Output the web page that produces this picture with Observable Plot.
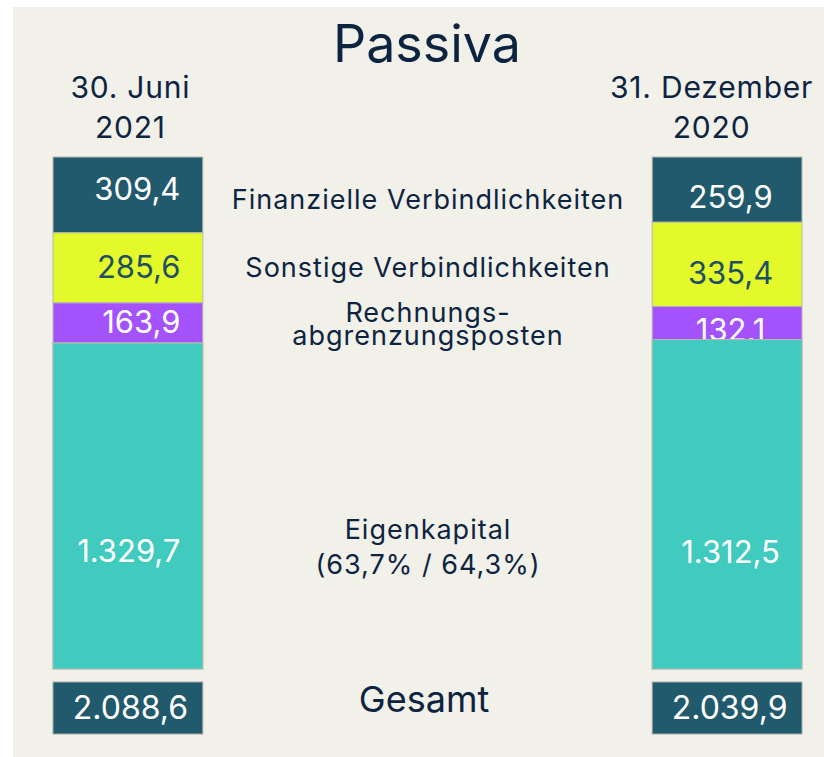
<!DOCTYPE html>
<html>
<head>
<meta charset="utf-8">
<script src="https://cdn.jsdelivr.net/npm/d3@7"></script>
<script src="https://cdn.jsdelivr.net/npm/@observablehq/plot@0.6"></script>
<style>
  html, body { margin: 0; padding: 0; background: #ffffff; }
  #panel { position: absolute; left: 13px; top: 7px; width: 811px; height: 750px; background: #f1f0e9; }
  #title { position: absolute; left: 264px; width: 300px; top: 11px; text-align: center;
           font-family: Inter, sans-serif; font-size: 52px; line-height: 52px; color: #0d2441; }
  #main { position: absolute; left: 0; top: 63px; }
  #totals { position: absolute; left: 0; top: 669px; }
  svg { overflow: visible; }
</style>
</head>
<body>
<div id="panel">
  <div id="title">Passiva</div>
  <div id="main"></div>
  <div id="totals"></div>
</div>
<script>
// ---- data ----
const dates = ["30. Juni\n2021", "31. Dezember\n2020"];
const categories = ["Finanzielle Verbindlichkeiten", "Sonstige Verbindlichkeiten", "Rechnungsabgrenzungsposten", "Eigenkapital"];
const categoryLabels = ["Finanzielle Verbindlichkeiten", "Sonstige Verbindlichkeiten", "Rechnungs-\nabgrenzungsposten", "Eigenkapital\n(63,7% / 64,3%)"];
const values2021 = [309.4, 285.6, 163.9, 1329.7];
const values2020 = [259.9, 335.4, 132.1, 1312.5];
const totals = [2088.6, 2039.9];
const totalLabel = "Gesamt";
const colors = ["#215a6c", "#e4f929", "#a452fc", "#41cbbf"];

const navy = "#0d2441";
const MID = " ";
const de = d3.formatLocale({decimal: ",", thousands: ".", grouping: [3], currency: ["", "€"]});
const fmt = de.format(",.1f");

const series = [values2021, values2020];
const rows = dates.flatMap((date, i) => categories.map((cat, j) => ({
  date, cat, value: series[i][j], label: categoryLabels[j]
})));
const rows2021 = rows.filter(d => d.date === dates[0]);
const totalRows = dates.map((date, i) => ({date, total: totals[i]}));

const xScale = {type: "band", domain: [dates[0], MID, dates[1]], paddingInner: 0.5, paddingOuter: 0, round: false};
const stackOpts = {x: "date", y: "value", offset: "normalize", reverse: true};

function valueText(dateIdx, pred, extra) {
  return Plot.text(rows, Plot.stackY({
    ...stackOpts,
    text: d => (d.date === dates[dateIdx] && pred(d)) ? fmt(d.value) : null,
    fontFamily: "Inter, sans-serif",
    fontSize: 31,
    ...extra
  }));
}
const isCat = k => d => d.cat === categories[k];
const leftPos = {textAnchor: "end", dx: 52};
const rightPos = {textAnchor: "middle", dx: 3};

function midText(pred, extra) {
  return Plot.text(rows2021, Plot.stackY({
    ...stackOpts,
    x: () => MID,
    text: d => pred(d) ? d.label : null,
    fill: navy,
    fontFamily: "Inter, sans-serif",
    fontSize: 27,
    ...extra
  }));
}

const barStyle = {stroke: "#b7b8b0", strokeWidth: 1};
const main = Plot.plot({
  width: 811,
  height: 605,
  marginLeft: 40,
  marginRight: 22,
  marginTop: 87,
  marginBottom: 6,
  style: {background: "transparent", fontFamily: "Inter, sans-serif"},
  x: {...xScale, axis: null},
  y: {domain: [0, 1], axis: null},
  color: {domain: categories, range: colors},
  opacity: {type: "identity"},
  marks: [
    Plot.barY(rows, Plot.stackY({...stackOpts, fill: "cat", ...barStyle})),
    Plot.axisX({anchor: "top", ticks: [dates[0]], tickSize: 0, tickPadding: 20, fontSize: 30, lineHeight: 1.33,
                fontFamily: "Inter, sans-serif", fill: navy, label: null, dx: 2, tickFormat: d => d}),
    Plot.axisX({anchor: "top", ticks: [dates[1]], tickSize: 0, tickPadding: 20, fontSize: 30, lineHeight: 1.33,
                fontFamily: "Inter, sans-serif", fill: navy, label: null, dx: -16, tickFormat: d => d}),
    // values, left bar
    valueText(0, isCat(0), {...leftPos, fill: "#ffffff", dy: -5}),
    valueText(0, isCat(1), {...leftPos, fill: "#1f4f63"}),
    valueText(0, isCat(2), {...leftPos, fill: "#ffffff"}),
    // values, right bar
    valueText(1, d => isCat(0)(d) || isCat(2)(d), {...rightPos, fill: "#ffffff", dy: 8}),
    valueText(1, isCat(1), {...rightPos, fill: "#1f4f63", dy: 9}),
    // equity segment drawn again on top (it covers the label above it, as in the original)
    Plot.barY(rows, Plot.stackY({...stackOpts, fill: "cat", ...barStyle,
      fillOpacity: d => isCat(3)(d) ? 1 : 0, strokeOpacity: d => isCat(3)(d) ? 1 : 0})),
    valueText(0, isCat(3), {...leftPos, fill: "#ffffff", dy: 46}),
    valueText(1, isCat(3), {...rightPos, fill: "#ffffff", dy: 48}),
    // category labels in the middle
    midText(isCat(0), {dy: 5}),
    midText(isCat(1), {dy: 0}),
    midText(isCat(2), {dy: 3, lineHeight: 0.86}),
    midText(isCat(3), {dy: 39, lineHeight: 1.3})
  ]
});
document.getElementById("main").appendChild(main);

// the original typeface runs a little wider: open up the tracking of the labels
const wide = new Map([
  ...categoryLabels.map(s => [s.replace("\n", ""), "1px"]),
  ...dates.map(s => [s.replace("\n", ""), "0.8px"])
]);
d3.select(main).selectAll("text").each(function() {
  const t = this.textContent;
  if (wide.has(t)) this.style.letterSpacing = wide.get(t);
});

const tot = Plot.plot({
  width: 811,
  height: 64,
  marginLeft: 40,
  marginRight: 22,
  marginTop: 6,
  marginBottom: 6,
  style: {background: "transparent"},
  x: {...xScale, axis: null},
  marks: [
    Plot.cell(totalRows, {x: "date", fill: colors[0], stroke: "#a9aaa5", strokeWidth: 1}),
    Plot.text(totalRows, {x: "date", text: d => fmt(d.total), fill: "#ffffff", fontSize: 32,
                          fontFamily: "Inter, sans-serif", frameAnchor: "middle", dx: 2}),
    Plot.text([totalLabel], {x: () => MID, text: d => d, fill: navy, fontSize: 36,
                             fontFamily: "Inter, sans-serif", frameAnchor: "middle", dx: -4, dy: -8})
  ]
});
document.getElementById("totals").appendChild(tot);
</script>
</body>
</html>
